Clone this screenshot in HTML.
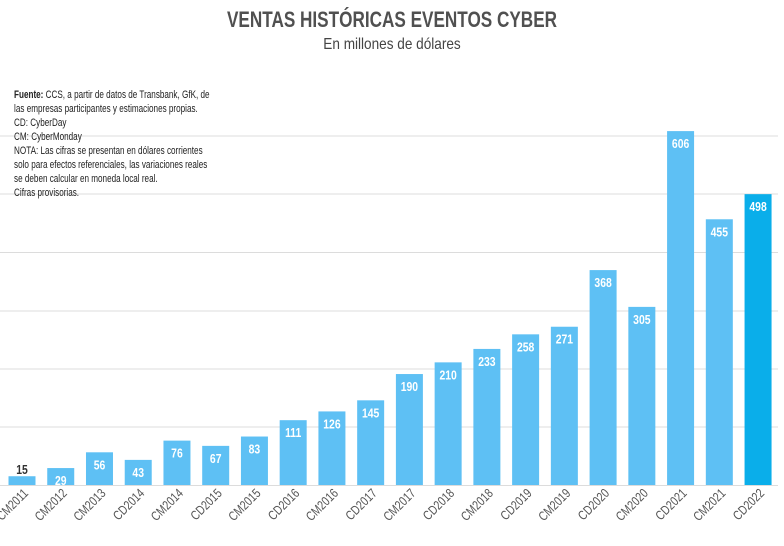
<!DOCTYPE html>
<html><head><meta charset="utf-8"><style>
body{margin:0;background:#fff;}
svg{display:block;font-family:"Liberation Sans",sans-serif;}
.v{font-size:13px;font-weight:bold;fill:#fff;text-anchor:middle;}
.l{font-size:13px;fill:#555;text-anchor:end;}
</style></head><body>
<svg width="784" height="546" viewBox="0 0 784 546" xmlns="http://www.w3.org/2000/svg">
<g transform="translate(392 27) scale(0.78 1)"><text x="0" y="0" text-anchor="middle" font-size="22" font-weight="bold" fill="#505050">VENTAS HISTÓRICAS EVENTOS CYBER</text></g>
<g transform="translate(392 49) scale(0.85 1)"><text x="0" y="0" text-anchor="middle" font-size="16" fill="#444">En millones de dólares</text></g>
<g stroke="#dcdcdc" stroke-width="1">
<line x1="0" x2="778" y1="485.5" y2="485.5"/>
<line x1="0" x2="778" y1="427" y2="427"/>
<line x1="0" x2="778" y1="369" y2="369"/>
<line x1="0" x2="778" y1="311" y2="311"/>
<line x1="0" x2="778" y1="252.5" y2="252.5"/>
<line x1="0" x2="778" y1="194" y2="194"/>
<line x1="0" x2="778" y1="136" y2="136"/>
</g>
<g font-size="11" fill="#222" transform="scale(0.74 1)">
<text x="19" y="98"><tspan font-weight="bold">Fuente:</tspan> CCS, a partir de datos de Transbank, GfK, de</text>
<text x="19" y="112">las empresas participantes y estimaciones propias.</text>
<text x="19" y="126">CD: CyberDay</text>
<text x="19" y="140">CM: CyberMonday</text>
<text x="19" y="154">NOTA: Las cifras se presentan en dólares corrientes</text>
<text x="19" y="168">solo para efectos referenciales, las variaciones reales</text>
<text x="19" y="182">se deben calcular en moneda local real.</text>
<text x="19" y="196">Cifras provisorias.</text>
</g>
<g fill="#5ec0f4">
<rect x="8.5" y="476.24" width="27" height="8.76"/>
<rect x="47.24" y="468.06" width="27" height="16.94"/>
<rect x="85.98" y="452.30" width="27" height="32.70"/>
<rect x="124.72" y="459.89" width="27" height="25.11"/>
<rect x="163.46" y="440.62" width="27" height="44.38"/>
<rect x="202.20" y="445.87" width="27" height="39.13"/>
<rect x="240.94" y="436.53" width="27" height="48.47"/>
<rect x="279.68" y="420.18" width="27" height="64.82"/>
<rect x="318.42" y="411.42" width="27" height="73.58"/>
<rect x="357.16" y="400.32" width="27" height="84.68"/>
<rect x="395.90" y="374.04" width="27" height="110.96"/>
<rect x="434.64" y="362.36" width="27" height="122.64"/>
<rect x="473.38" y="348.93" width="27" height="136.07"/>
<rect x="512.12" y="334.33" width="27" height="150.67"/>
<rect x="550.86" y="326.74" width="27" height="158.26"/>
<rect x="589.60" y="270.09" width="27" height="214.91"/>
<rect x="628.34" y="306.88" width="27" height="178.12"/>
<rect x="667.08" y="131.10" width="27" height="353.90"/>
<rect x="705.82" y="219.28" width="27" height="265.72"/>
<rect x="744.56" y="194.17" width="27" height="290.83" fill="#0aaeea"/>
</g>
<g transform="translate(22 474) scale(0.8 1)"><text class="v" style="fill:#333">15</text></g>
<g transform="translate(60.74 485) scale(0.8 1)"><text class="v">29</text></g>
<g transform="translate(99.48 469.3) scale(0.8 1)"><text class="v">56</text></g>
<g transform="translate(138.22 476.9) scale(0.8 1)"><text class="v">43</text></g>
<g transform="translate(176.96 457.6) scale(0.8 1)"><text class="v">76</text></g>
<g transform="translate(215.70 462.9) scale(0.8 1)"><text class="v">67</text></g>
<g transform="translate(254.44 453.5) scale(0.8 1)"><text class="v">83</text></g>
<g transform="translate(293.18 437.2) scale(0.8 1)"><text class="v">111</text></g>
<g transform="translate(331.92 428.4) scale(0.8 1)"><text class="v">126</text></g>
<g transform="translate(370.66 417.3) scale(0.8 1)"><text class="v">145</text></g>
<g transform="translate(409.40 391) scale(0.8 1)"><text class="v">190</text></g>
<g transform="translate(448.14 379.4) scale(0.8 1)"><text class="v">210</text></g>
<g transform="translate(486.88 365.9) scale(0.8 1)"><text class="v">233</text></g>
<g transform="translate(525.62 351.3) scale(0.8 1)"><text class="v">258</text></g>
<g transform="translate(564.36 343.7) scale(0.8 1)"><text class="v">271</text></g>
<g transform="translate(603.10 287.1) scale(0.8 1)"><text class="v">368</text></g>
<g transform="translate(641.84 323.9) scale(0.8 1)"><text class="v">305</text></g>
<g transform="translate(680.58 148.1) scale(0.8 1)"><text class="v">606</text></g>
<g transform="translate(719.32 236.3) scale(0.8 1)"><text class="v">455</text></g>
<g transform="translate(758.06 211.2) scale(0.8 1)"><text class="v">498</text></g>
<g transform="translate(29 494) rotate(-45) scale(0.8 1)"><text class="l">CM2011</text></g>
<g transform="translate(67.74 494) rotate(-45) scale(0.8 1)"><text class="l">CM2012</text></g>
<g transform="translate(106.48 494) rotate(-45) scale(0.8 1)"><text class="l">CM2013</text></g>
<g transform="translate(145.22 494) rotate(-45) scale(0.8 1)"><text class="l">CD2014</text></g>
<g transform="translate(183.96 494) rotate(-45) scale(0.8 1)"><text class="l">CM2014</text></g>
<g transform="translate(222.70 494) rotate(-45) scale(0.8 1)"><text class="l">CD2015</text></g>
<g transform="translate(261.44 494) rotate(-45) scale(0.8 1)"><text class="l">CM2015</text></g>
<g transform="translate(300.18 494) rotate(-45) scale(0.8 1)"><text class="l">CD2016</text></g>
<g transform="translate(338.92 494) rotate(-45) scale(0.8 1)"><text class="l">CM2016</text></g>
<g transform="translate(377.66 494) rotate(-45) scale(0.8 1)"><text class="l">CD2017</text></g>
<g transform="translate(416.40 494) rotate(-45) scale(0.8 1)"><text class="l">CM2017</text></g>
<g transform="translate(455.14 494) rotate(-45) scale(0.8 1)"><text class="l">CD2018</text></g>
<g transform="translate(493.88 494) rotate(-45) scale(0.8 1)"><text class="l">CM2018</text></g>
<g transform="translate(532.62 494) rotate(-45) scale(0.8 1)"><text class="l">CD2019</text></g>
<g transform="translate(571.36 494) rotate(-45) scale(0.8 1)"><text class="l">CM2019</text></g>
<g transform="translate(610.10 494) rotate(-45) scale(0.8 1)"><text class="l">CD2020</text></g>
<g transform="translate(648.84 494) rotate(-45) scale(0.8 1)"><text class="l">CM2020</text></g>
<g transform="translate(687.58 494) rotate(-45) scale(0.8 1)"><text class="l">CD2021</text></g>
<g transform="translate(726.32 494) rotate(-45) scale(0.8 1)"><text class="l">CM2021</text></g>
<g transform="translate(765.06 494) rotate(-45) scale(0.8 1)"><text class="l">CD2022</text></g>
</svg>
</body></html>
